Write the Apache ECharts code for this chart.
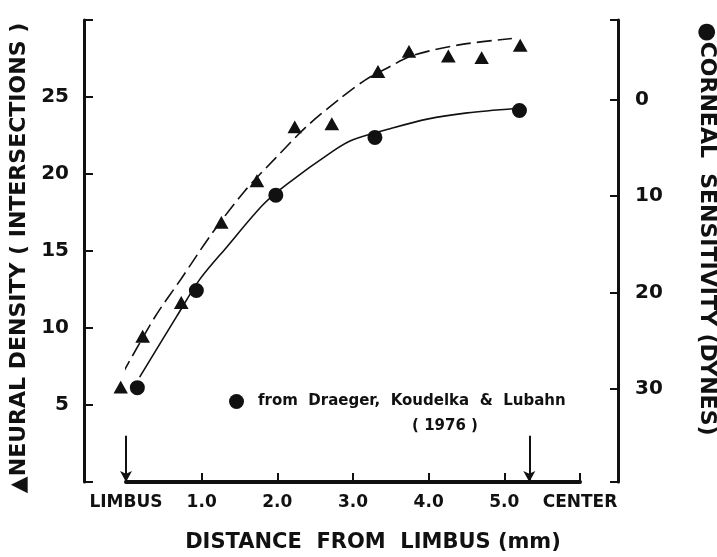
<!DOCTYPE html>
<html>
<head>
<meta charset="utf-8">
<script src="https://cdn.jsdelivr.net/npm/echarts@6/dist/echarts.min.js"></script>
<style>
html,body{margin:0;padding:0;background:#fff;}
#chart{width:717px;height:557px;}
</style>
</head>
<body>
<div id="chart"></div>
<script>
// Neural density (triangles, left axis)
const triX = [-0.07, 0.22, 0.73, 1.26, 1.73, 2.23, 2.72, 3.33, 3.74, 4.26, 4.70, 5.21];
const triY = [6.2, 9.5, 11.7, 16.9, 19.6, 23.1, 23.3, 26.7, 28.0, 27.7, 27.6, 28.4];
// Corneal sensitivity (circles, right axis, dynes)
const circX = [0.15, 0.93, 1.98, 3.29, 5.20];
const circY = [29.9, 19.8, 9.9, 3.9, 1.1];
// fitted curve through triangles
const triFitX = [-0.05, 0.38, 0.73, 1.13, 1.57, 1.97, 2.39, 2.83, 3.16, 3.46, 3.79, 4.42, 5.10];
const triFitY = [7.0, 10.7, 13.2, 16.1, 18.9, 21.0, 23.1, 24.9, 26.1, 26.9, 27.7, 28.4, 28.8];
// fitted curve through circles
const circFitX = [0.18, 0.67, 0.97, 1.33, 1.81, 2.12, 2.74, 3.00, 3.49, 3.98, 4.51, 5.15];
const circFitY = [28.8, 22.5, 18.7, 15.3, 10.9, 8.8, 5.3, 4.15, 3.0, 2.0, 1.35, 0.9];
// axis ticks and labels
const xTickValues = [0, 1, 2, 3, 4, 5, 6];
const xTickLabels = ['LIMBUS', '1.0', '2.0', '3.0', '4.0', '5.0', 'CENTER'];
const leftTickLabels = [5, 10, 15, 20, 25];
const rightTickLabels = [0, 10, 20, 30];
// arrows marking limbus and center
const arrowX = [0, 5.33];
const arrowTop = 3;
const legendName = 'from  Draeger,  Koudelka  &  Lubahn';
const legendYear = '( 1976 )';

const zip = (a, b) => a.map((v, i) => [v, b[i]]);
const FONT = 'DejaVu Sans';
const INK = '#111';
const LEFT_RANGE = {min: 0, max: 30};
const RIGHT_RANGE = {min: -8.3, max: 39.7};

const chart = echarts.init(document.getElementById('chart'), null, {renderer: 'canvas'});
chart.setOption({
  backgroundColor: '#fff',
  animation: false,
  grid: [
    {left: 84, right: 99, top: 20, bottom: 75, outerBoundsMode: 'none', containLabel: false},
    {left: 126, right: 137, top: 20, bottom: 75, outerBoundsMode: 'none', containLabel: false}
  ],
  legend: {
    data: [legendName],
    left: 224, top: 389,
    icon: 'circle', itemWidth: 15, itemHeight: 15,
    itemStyle: {color: INK, borderWidth: 0, opacity: 1},
    textStyle: {fontFamily: FONT, fontWeight: 'bold', fontSize: 15, color: INK, padding: [0, 0, 0, 9]},
    selectedMode: false
  },
  graphic: [{
    type: 'text', x: 445, y: 426,
    style: {text: legendYear, fontFamily: FONT, fontWeight: 'bold', fontSize: 15, fill: INK, textAlign: 'center', textVerticalAlign: 'middle'}
  }],
  xAxis: [{
    gridIndex: 0, type: 'value', min: 0, max: 1, show: false
  }, {
    gridIndex: 1, type: 'value', min: 0, max: 6, interval: 1,
    name: 'DISTANCE  FROM  LIMBUS (mm)', nameLocation: 'middle', nameGap: 50,
    nameTextStyle: {fontFamily: FONT, fontWeight: 'bold', fontSize: 21, color: INK, padding: [0, 0, 0, 40]},
    axisLine: {show: true, lineStyle: {color: INK, width: 4}},
    axisTick: {show: true, inside: true, length: 9, lineStyle: {color: INK, width: 2}, customValues: [1, 2, 3, 4, 5, 6]},
    axisLabel: {
      customValues: xTickValues, margin: 12,
      fontFamily: FONT, fontWeight: 'bold', fontSize: 17, color: INK,
      formatter: v => xTickLabels[xTickValues.indexOf(Math.round(v))]
    },
    splitLine: {show: false}
  }],
  yAxis: [{
    gridIndex: 0, type: 'value', position: 'left', ...LEFT_RANGE,
    name: '▲NEURAL DENSITY ( INTERSECTIONS )', nameLocation: 'middle', nameGap: 53,
    nameTextStyle: {fontFamily: FONT, fontWeight: 'bold', fontSize: 22, color: INK, padding: [0, 14, 0, 0]},
    axisLine: {show: true, lineStyle: {color: INK, width: 3}},
    axisTick: {show: true, inside: true, length: 9, lineStyle: {color: INK, width: 2}, customValues: [0, 5, 10, 15, 20, 25, 30]},
    axisLabel: {customValues: leftTickLabels, margin: 15, fontFamily: FONT, fontWeight: 'bold', fontSize: 20, color: INK},
    splitLine: {show: false}
  }, {
    gridIndex: 0, type: 'value', position: 'right', ...RIGHT_RANGE, inverse: true,
    name: '●CORNEAL  SENSITIVITY (DYNES)', nameLocation: 'middle', nameGap: 78, nameRotate: -90,
    nameTextStyle: {fontFamily: FONT, fontWeight: 'bold', fontSize: 22, color: INK, padding: [0, 44, 0, 0]},
    axisLine: {show: true, lineStyle: {color: INK, width: 3}},
    axisTick: {show: true, inside: true, length: 8, lineStyle: {color: INK, width: 2}, customValues: [RIGHT_RANGE.min, 0, 10, 20, 30, RIGHT_RANGE.max]},
    axisLabel: {customValues: rightTickLabels, margin: 17, fontFamily: FONT, fontWeight: 'bold', fontSize: 20, color: INK},
    splitLine: {show: false}
  }, {
    gridIndex: 1, type: 'value', position: 'left', ...LEFT_RANGE, show: false, splitLine: {show: false}
  }, {
    gridIndex: 1, type: 'value', position: 'right', ...RIGHT_RANGE, inverse: true, show: false, splitLine: {show: false}
  }],
  series: [{
    name: 'triFit', type: 'line', xAxisIndex: 1, yAxisIndex: 2, smooth: 0.3,
    showSymbol: false, clip: false, silent: true,
    data: zip(triFitX, triFitY),
    lineStyle: {color: INK, width: 1.6, type: [15, 6]},
    markLine: {
      silent: true, symbol: ['none', 'arrow'], symbolSize: [9, 11], precision: 2,
      label: {show: false},
      lineStyle: {color: INK, width: 2, type: 'solid'},
      data: arrowX.map(x => [{coord: [x, arrowTop]}, {coord: [x, 0]}])
    }
  }, {
    name: 'circFit', type: 'line', xAxisIndex: 1, yAxisIndex: 3, smooth: 0.3,
    showSymbol: false, clip: false, silent: true,
    data: zip(circFitX, circFitY),
    lineStyle: {color: INK, width: 1.6}
  }, {
    name: 'triangles', type: 'scatter', xAxisIndex: 1, yAxisIndex: 2, clip: false, symbol: 'triangle', symbolSize: [18, 16],
    data: zip(triX, triY),
    itemStyle: {color: INK, borderColor: '#fff', borderWidth: 2, opacity: 1}
  }, {
    name: legendName, type: 'scatter', xAxisIndex: 1, yAxisIndex: 3, clip: false, symbol: 'circle', symbolSize: 17,
    data: zip(circX, circY),
    itemStyle: {color: INK, borderColor: '#fff', borderWidth: 2, opacity: 1}
  }]
});
</script>
</body>
</html>
